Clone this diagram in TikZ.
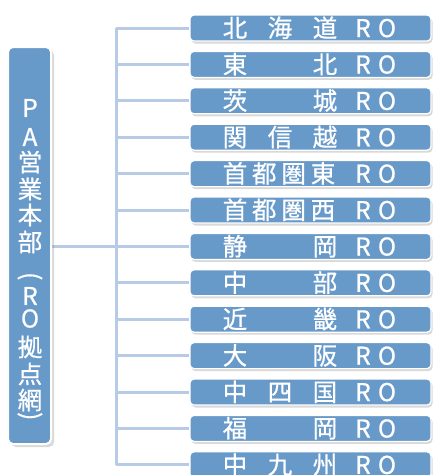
\documentclass[tikz,border=0pt]{standalone}
\usepackage{fontspec}
\setmainfont[FakeBold=0.7]{Noto Sans CJK JP}
\usetikzlibrary{shadows,backgrounds}
\definecolor{boxblue}{RGB}{103,153,201}
\definecolor{linkblue}{RGB}{183,203,230}
\newcommand\placeat[2]{\rlap{\hspace*{#1}\makebox[0pt]{#2}}}
\newcommand\roRO{\placeat{173pt}{R}\placeat{197pt}{O}}
\newcommand\rothree[3]{\makebox[241pt][l]{\placeat{45pt}{#1}\placeat{90pt}{#2}\placeat{135pt}{#3}\roRO}}
\newcommand\rofour[4]{\makebox[241pt][l]{\placeat{45pt}{#1}\placeat{74.3pt}{#2}\placeat{103.7pt}{#3}\placeat{133pt}{#4}\roRO}}
\tikzset{
  robox/.style={fill=boxblue, draw=white, line width=1.2pt, rounded corners=4pt,
    inner sep=0pt, text height=22.1pt, text depth=3.9pt, text=white,
    font=\fontsize{24.5pt}{24.5pt}\selectfont,
    drop shadow={shadow xshift=1.5pt, shadow yshift=-2.5pt, opacity=0.3}},
  lbox/.style={fill=boxblue, draw=white, line width=2pt, rounded corners=5pt,
    inner sep=0pt, minimum width=43pt, minimum height=397pt,
    drop shadow={shadow xshift=3pt, shadow yshift=-3pt, opacity=0.3}},
  vchar/.style={text=white, inner sep=0pt, font=\fontsize{24.5pt}{24.5pt}\selectfont},
  conn/.style={draw=linkblue, line width=3pt}
}
\begin{document}
\begin{tikzpicture}[x=1pt,y=-1pt]
\useasboundingbox (0,0) rectangle (433,475);
\clip (0,0) rectangle (433,475);
\node[lbox] (L) at (29.5,245.5) {};
\foreach \c/\yy [count=\i] in {P/108, A/137, 営/162, 業/189, 本/215, 部/242,
    {\rotatebox[origin=c]{-90}{(}}/278, R/296, O/318.5, 拠/347, 点/374, 網/400,
    {\rotatebox[origin=c]{-90}{)}}/418}
  \node[vchar] (v\i) at (30,\yy) {\c};
\node[robox] (r1) at (310.5,28) {\rothree{北}{海}{道}};
\node[robox] (r2) at (310.5,64.4) {\rothree{東}{}{北}};
\node[robox] (r3) at (310.5,100.8) {\rothree{茨}{}{城}};
\node[robox] (r4) at (310.5,137.2) {\rothree{関}{信}{越}};
\node[robox] (r5) at (310.5,173.6) {\rofour{首}{都}{圏}{東}};
\node[robox] (r6) at (310.5,210) {\rofour{首}{都}{圏}{西}};
\node[robox] (r7) at (310.5,246.4) {\rothree{静}{}{岡}};
\node[robox] (r8) at (310.5,282.8) {\rothree{中}{}{部}};
\node[robox] (r9) at (310.5,319.2) {\rothree{近}{}{畿}};
\node[robox] (r10) at (310.5,355.6) {\rothree{大}{}{阪}};
\node[robox] (r11) at (310.5,392) {\rothree{中}{四}{国}};
\node[robox] (r12) at (310.5,428.4) {\rothree{福}{}{岡}};
\node[robox] (r13) at (310.5,464.8) {\rothree{中}{九}{州}};
\coordinate (trunk) at (116,0);
\begin{scope}[on background layer]
  \draw[conn] (r1.west -| trunk) -- (r13.west -| trunk);
  \foreach \i in {1,...,13}
    \draw[conn] (r\i.west -| trunk) -- (r\i.west);
  \draw[conn] (L.east |- r7.west) -- (r7.west -| trunk);
\end{scope}
\end{tikzpicture}
\end{document}
